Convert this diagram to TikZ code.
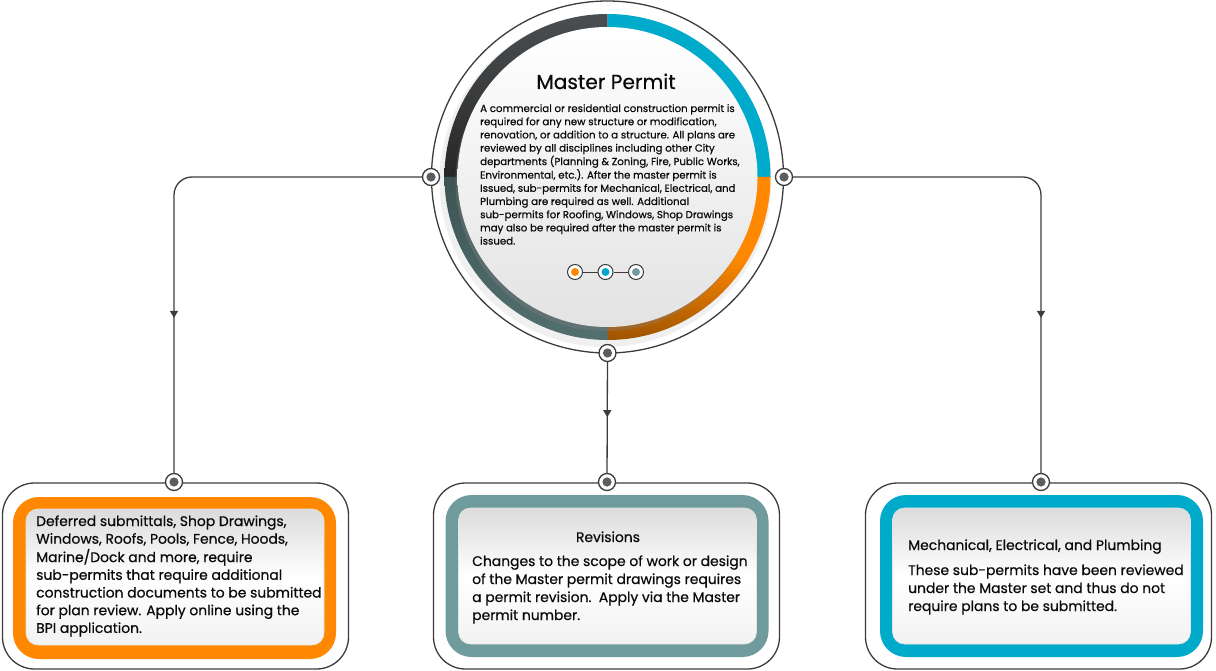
\documentclass[tikz,border=0pt]{standalone}
\usepackage{fontspec}
\setmainfont{Poppins}[FakeBold=0.6]
\usetikzlibrary{decorations.markings,arrows.meta,shadows}
\definecolor{cOrange}{HTML}{FF8800}
\definecolor{cCyan}{HTML}{00AACB}
\definecolor{cTeal}{HTML}{6F9B9C}
\definecolor{cLine}{HTML}{3C3C3C}
\definecolor{cDot}{HTML}{5A5E60}
\definecolor{cDark}{HTML}{4B4F51}
\definecolor{cDarkTeal}{HTML}{52706F}
\definecolor{cText}{HTML}{0A0A0A}
\tikzset{
  port/.style={circle, draw=cLine, line width=1.3pt, fill=white, minimum size=17pt, inner sep=0pt,
    path picture={\fill[cDot] (path picture bounding box.center) circle[radius=4.6pt];}},
  sdot/.style={circle, draw=cLine, line width=1pt, fill=white, minimum size=15pt, inner sep=0pt,
    path picture={\fill[#1] (path picture bounding box.center) circle[radius=4pt];}},
  conn/.style={draw=cLine, line width=1.3pt},
  arrowmark/.style={postaction={decorate, decoration={markings,
    mark=at position #1 with {\arrow{Triangle[width=8pt,length=7pt]}}}}},
  outerbox/.style={draw=cLine, line width=1.3pt, fill=white, rounded corners=32pt,
    minimum width=346pt, minimum height=186pt, inner sep=0pt},
  colbox/.style={fill=#1, rounded corners=26pt, minimum width=323pt, minimum height=162pt, inner sep=0pt},
  whitebox/.style={draw=black!10, line width=0.6pt, rounded corners=12pt, top color=black!14,
    bottom color=black!5, middle color=white, minimum width=298pt, minimum height=136pt, inner sep=0pt},
  txt/.style={inner sep=0pt, text=cText},
}
\begin{document}
\begin{tikzpicture}[x=1pt,y=-1pt]
\useasboundingbox (0,0) rectangle (1216,671);
\fill[white] (0,0) rectangle (1216,671);

% ---- central circle ----
\coordinate (C) at (607.5,177);
\fill[black!6] (C) ++(-2,4) circle[radius=166];
\shade[top color=cDark, bottom color=black!85] (C) -- +(180:163) arc[start angle=180,end angle=270,radius=163] -- cycle;
\fill[cCyan] (C) -- +(270:163) arc[start angle=270,end angle=360,radius=163] -- cycle;
\shade[top color=cOrange, bottom color=cOrange!62!black, middle color=cOrange] (C) -- +(0:163) arc[start angle=0,end angle=90,radius=163] -- cycle;
\shade[top color=cDarkTeal!75!black, bottom color=cDarkTeal] (C) -- +(90:163) arc[start angle=90,end angle=180,radius=163] -- cycle;
\node[circle, draw=cLine, line width=1.3pt, minimum size=352pt, inner sep=0pt] (outer) at (C) {};
\node[circle, minimum size=300pt, inner sep=0pt, top color=white, bottom color=black!11,
  drop shadow={shadow xshift=-2pt, shadow yshift=-4pt, opacity=.35}] (disk) at (C) {};

\node[txt, anchor=base, font=\fontsize{20.2}{24}\selectfont] (title) at (606,89) {Master Permit};
\node[txt, anchor=base west, font=\fontsize{10.2}{13.2}\selectfont] (mtext) at (480,112) {\begin{tabular}[t]{@{}l@{}}
A commercial or residential construction permit is\\
required for any new structure or modification,\\
renovation, or addition to a structure. All plans are\\
reviewed by all disciplines including other City\\
departments (Planning \& Zoning, Fire, Public Works,\\
Environmental, etc.). After the master permit is\\
Issued, sub-permits for Mechanical, Electrical, and\\
Plumbing are required as well. Additional\\
sub-permits for Roofing, Windows, Shop Drawings\\
may also be required after the master permit is\\
issued.\end{tabular}};

\node[sdot=cOrange] (d1) at (575,272) {};
\node[sdot=cCyan] (d2) at (605.5,272) {};
\node[sdot=cTeal] (d3) at (636,272) {};
\draw[cLine, line width=0.9pt] (d1) -- (d2);
\draw[cLine, line width=0.9pt] (d2) -- (d3);

% ---- boxes ----
\node[outerbox] (oL) at (175.5,576) {};
\node[colbox=cOrange] (kL) at (174.5,578) {};
\node[whitebox] (wL) at (175,577) {};
\node[outerbox] (oM) at (606.5,576) {};
\node[colbox=cTeal] (kM) at (607,576) {};
\node[whitebox] (wM) at (607.5,576) {};
\node[outerbox] (oR) at (1038.5,576) {};
\node[colbox=cCyan] (kR) at (1041.5,576) {};
\node[whitebox] (wR) at (1041.5,576) {};

\node[txt, anchor=base west, font=\fontsize{13.9}{17.7}\selectfont] (tL) at (36,526) {\begin{tabular}[t]{@{}l@{}}
Deferred submittals, Shop Drawings,\\
Windows, Roofs, Pools, Fence, Hoods,\\
Marine/Dock and more, require\\
sub-permits that require additional\\
construction documents to be submitted\\
for plan review. Apply online using the\\
BPI application.\end{tabular}};

\node[txt, anchor=base, font=\fontsize{13.9}{17.7}\selectfont] (hM) at (608,542) {Revisions};
\node[txt, anchor=base west, font=\fontsize{13.9}{18}\selectfont] (tM) at (472,566) {\begin{tabular}[t]{@{}l@{}}
Changes to the scope of work or design\\
of the Master permit drawings requires\\
a permit revision.\ \ Apply via the Master\\
permit number.\end{tabular}};

\node[txt, anchor=base west, font=\fontsize{13.9}{17.7}\selectfont] (hR) at (908,550) {Mechanical, Electrical, and Plumbing};
\node[txt, anchor=base west, font=\fontsize{13.9}{18}\selectfont] (tR) at (908,575) {\begin{tabular}[t]{@{}l@{}}
These sub-permits have been reviewed\\
under the Master set and thus do not\\
require plans to be submitted.\end{tabular}};

% ---- ports ----
\node[port] (pL) at (431,177) {};
\node[port] (pR) at (784,177) {};
\node[port] (pB) at (607.5,353) {};
\node[port] (bL) at (174,482) {};
\node[port] (bM) at (607,482) {};
\node[port] (bR) at (1041,482) {};

% ---- connectors ----
\draw[conn, rounded corners=18pt, arrowmark=381pt] (pL) -| (bL);
\draw[conn, rounded corners=18pt, arrowmark=381pt] (pR) -| (bR);
\draw[conn, arrowmark=55pt] (pB) -- (bM);
\end{tikzpicture}
\end{document}
